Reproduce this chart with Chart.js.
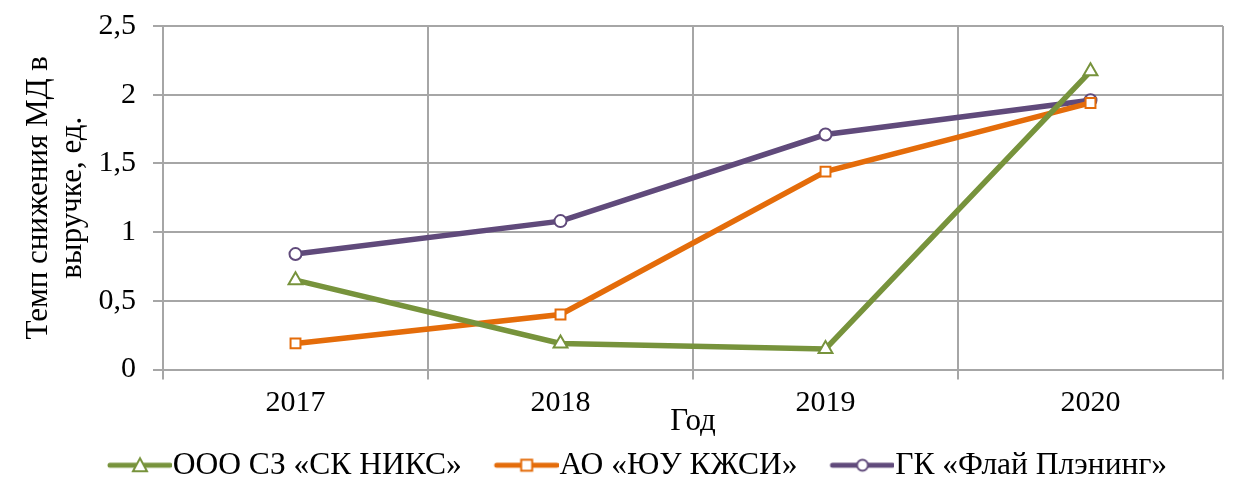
<!DOCTYPE html>
<html>
<head>
<meta charset="utf-8">
<script src="https://cdn.jsdelivr.net/npm/chart.js@4"></script>
<style>
  html, body { margin: 0; padding: 0; background: #fff; }
  #wrap { width: 1242px; height: 497px; }
</style>
</head>
<body>
<div id="wrap"><canvas id="myChart" width="1242" height="497"></canvas></div>
<script>
'use strict';

var YEARS = ['2017', '2018', '2019', '2020'];
var NIKS = [0.65, 0.19, 0.15, 2.17];
var KZHSI = [0.19, 0.40, 1.44, 1.94];
var FLY = [0.84, 1.08, 1.71, 1.96];
var Y_TICKS = [0, 0.5, 1, 1.5, 2, 2.5];

var GREEN = '#77933c';
var ORANGE = '#e46c0a';
var PURPLE = '#604a7b';
var GRID = '#a6a6a6';
var FONT = 'Liberation Serif';

// legend symbol: line with the marker in the middle
function legendSymbol(color, style) {
  var c = document.createElement('canvas');
  c.width = 79;
  c.height = 20;
  var g = c.getContext('2d');
  g.strokeStyle = color;
  g.lineWidth = 5;
  g.lineCap = 'round';
  g.beginPath();
  g.moveTo(17, 10);
  g.lineTo(77, 10);
  g.stroke();
  g.fillStyle = '#fff';
  g.lineWidth = 2;
  g.beginPath();
  var cx = 47, cy = 10;
  if (style === 'triangle') {
    g.moveTo(cx, cy - 7);
    g.lineTo(cx + 7, cy + 6);
    g.lineTo(cx - 7, cy + 6);
    g.closePath();
  } else if (style === 'rect') {
    g.rect(cx - 5.5, cy - 5.5, 11, 11);
  } else {
    g.arc(cx, cy, 5.5, 0, Math.PI * 2);
  }
  g.fill();
  g.stroke();
  return c;
}

function series(label, data, color, style, radius) {
  return {
    label: label,
    data: data,
    borderColor: color,
    backgroundColor: '#fff',
    borderWidth: 5.5,
    pointStyle: style,
    pointRadius: radius,
    pointHoverRadius: radius,
    pointBorderWidth: 2,
    pointBorderColor: color,
    pointBackgroundColor: '#fff',
    tension: 0,
    legendSymbol: legendSymbol(color, style)
  };
}

var ctx = document.getElementById('myChart');

// left padding 75 so the start-aligned legend begins near x=108;
// the y axis width makes up the rest up to the plot edge at x=163
new Chart(ctx, {
  type: 'line',
  data: {
    labels: YEARS,
    datasets: [
      series('ООО СЗ «СК НИКС»', NIKS, GREEN, 'triangle', 8),
      series('АО «ЮУ КЖСИ»', KZHSI, ORANGE, 'rect', 7),
      series('ГК «Флай Плэнинг»', FLY, PURPLE, 'circle', 6)
    ]
  },
  options: {
    responsive: false,
    animation: false,
    layout: { padding: { top: 26, right: 19, bottom: 6, left: 75 } },
    plugins: {
      tooltip: { enabled: false },
      legend: {
        position: 'bottom',
        align: 'start',
        labels: {
          usePointStyle: true,
          pointStyleWidth: 49,
          padding: 33,
          color: '#000',
          font: { family: FONT, size: 31.5 },
          generateLabels: function (chart) {
            return chart.data.datasets.map(function (ds, i) {
              return {
                text: ds.label,
                pointStyle: ds.legendSymbol,
                fillStyle: ds.borderColor,
                strokeStyle: ds.borderColor,
                lineWidth: 0,
                fontColor: '#000',
                datasetIndex: i
              };
            });
          }
        }
      }
    },
    scales: {
      x: {
        type: 'category',
        offset: true,
        afterFit: function (scale) {
          scale.height = 47;
        },
        grid: { offset: true, color: GRID, lineWidth: 2, tickLength: 10 },
        border: { color: GRID, width: 2 },
        ticks: { color: '#000', padding: 6, maxRotation: 0, font: { family: FONT, size: 30 } },
        title: {
          display: true,
          text: 'Год',
          color: '#000',
          padding: { top: 0, bottom: -24 },
          font: { family: FONT, size: 31 }
        }
      },
      y: {
        min: 0,
        max: 2.5,
        afterFit: function (scale) {
          scale.width = 88;
          scale.paddingTop = 0;
          scale.paddingBottom = 0;
        },
        afterBuildTicks: function (scale) {
          scale.ticks = Y_TICKS.map(function (v) { return { value: v }; });
        },
        grid: { color: GRID, lineWidth: 2, tickLength: 10 },
        border: { color: GRID, width: 2 },
        ticks: {
          color: '#000',
          padding: 17,
          font: { family: FONT, size: 30 },
          callback: function (v) { return String(v).replace('.', ','); }
        },
        title: {
          display: true,
          text: ['Темп снижения МД в', 'выручке, ед.'],
          color: '#000',
          padding: { top: -53, bottom: 0 },
          font: { family: FONT, size: 31, lineHeight: 1.1 }
        }
      }
    }
  }
});
</script>
</body>
</html>
